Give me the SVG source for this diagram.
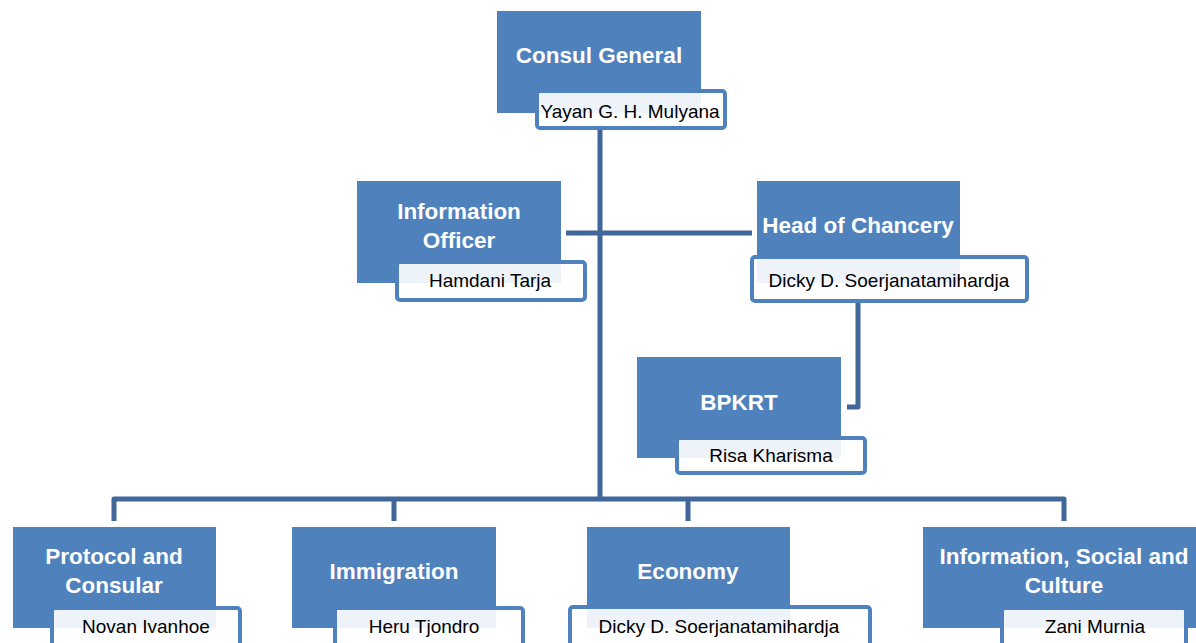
<svg xmlns="http://www.w3.org/2000/svg" width="1196" height="643" viewBox="0 0 1196 643">
<style>
.box{fill:#4F81BD}
.nb{fill:#FFFFFF;fill-opacity:0.9;stroke:#4F81BD;stroke-width:4}
.t{font-family:"Liberation Sans",Arial,sans-serif;font-weight:bold;font-size:22.5px;fill:#FFFFFF;text-anchor:middle}
.n{font-family:"Liberation Sans",Arial,sans-serif;font-size:19px;fill:#000000;text-anchor:middle}
.c{fill:none;stroke:#41679A;stroke-width:5;stroke-linejoin:round}
</style>
<rect width="1196" height="643" fill="#FFFFFF"/>
<g id="connectors">
<path class="c" d="M600,125 V499"/>
<path class="c" d="M566,233 H752"/>
<path class="c" d="M858,302 V407 H847"/>
<path class="c" d="M114,521 V499 H1064 V521"/>
<path class="c" d="M394,499 V521"/>
<path class="c" d="M688,499 V521"/>
</g>
<g id="consul-general">
<rect class="box" x="497" y="11" width="204" height="102"/>
<text class="t" x="599" y="63">Consul General</text>
<rect class="nb" x="537" y="91" width="188" height="37" rx="3"/>
<text class="n" x="630" y="118">Yayan G. H. Mulyana</text>
</g>
<g id="information-officer">
<rect class="box" x="357" y="181" width="204" height="102"/>
<text class="t" x="459" y="219">Information</text>
<text class="t" x="459" y="248">Officer</text>
<rect class="nb" x="397" y="262" width="188" height="38" rx="3"/>
<text class="n" x="490" y="287">Hamdani Tarja</text>
</g>
<g id="head-of-chancery">
<rect class="box" x="757" y="181" width="203" height="102"/>
<text class="t" x="858" y="233">Head of Chancery</text>
<rect class="nb" x="752" y="257" width="275" height="44" rx="3"/>
<text class="n" x="889" y="287">Dicky D. Soerjanatamihardja</text>
</g>
<g id="bpkrt">
<rect class="box" x="637" y="357" width="204" height="101"/>
<text class="t" x="739" y="410">BPKRT</text>
<rect class="nb" x="677" y="438" width="188" height="35" rx="3"/>
<text class="n" x="771" y="462">Risa Kharisma</text>
</g>
<g id="protocol-consular">
<rect class="box" x="13" y="527" width="203" height="101"/>
<text class="t" x="114" y="564">Protocol and</text>
<text class="t" x="114" y="593">Consular</text>
<rect class="nb" x="52" y="608" width="188" height="50" rx="3"/>
<text class="n" x="146" y="633">Novan Ivanhoe</text>
</g>
<g id="immigration">
<rect class="box" x="292" y="527" width="204" height="101"/>
<text class="t" x="394" y="579">Immigration</text>
<rect class="nb" x="335" y="608" width="188" height="50" rx="3"/>
<text class="n" x="424" y="633">Heru Tjondro</text>
</g>
<g id="economy">
<rect class="box" x="587" y="527" width="203" height="101"/>
<text class="t" x="688" y="579">Economy</text>
<rect class="nb" x="570" y="607" width="300" height="50" rx="3"/>
<text class="n" x="719" y="633">Dicky D. Soerjanatamihardja</text>
</g>
<g id="information-social-culture">
<rect class="box" x="923" y="527" width="290" height="101"/>
<text class="t" x="1064" y="564">Information, Social and</text>
<text class="t" x="1064" y="593">Culture</text>
<rect class="nb" x="1002" y="608" width="184" height="50" rx="3"/>
<text class="n" x="1095" y="633">Zani Murnia</text>
</g>
</svg>
